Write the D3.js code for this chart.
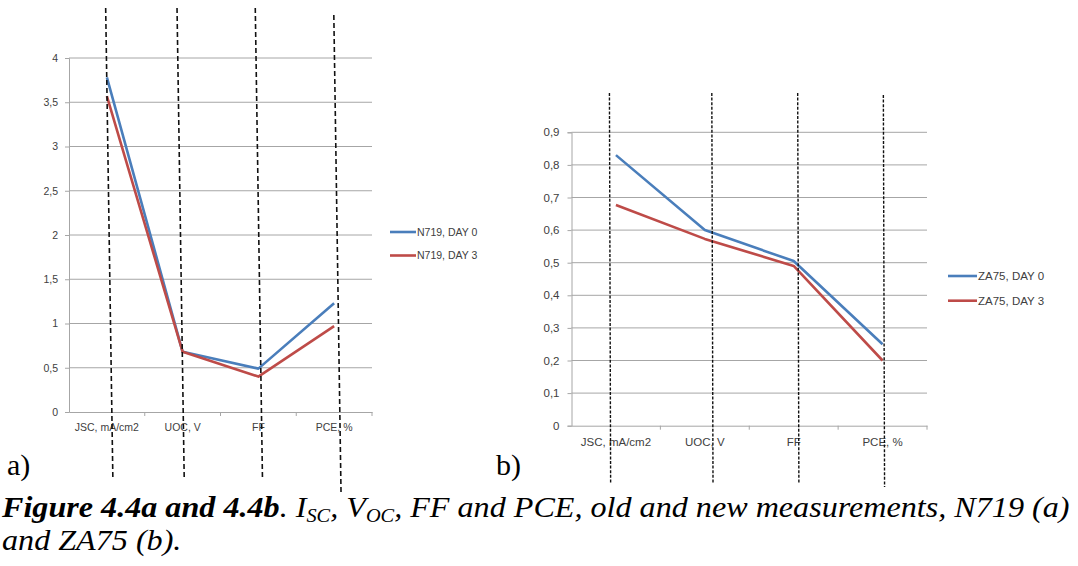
<!DOCTYPE html>
<html>
<head>
<meta charset="utf-8">
<script src="https://cdn.jsdelivr.net/npm/d3@7"></script>
<style>
  html, body { margin: 0; padding: 0; background: #fff; }
  svg { display: block; }
  .tick text, .lbl { font-family: "Liberation Sans", Arial, sans-serif; fill: #404040; }
  .serif { font-family: "Liberation Serif", "Times New Roman", serif; }
</style>
</head>
<body>
<svg id="fig" width="1078" height="566"></svg>
<script>
// Measured parameters shared by both panels
const categories = ["JSC, mA/cm2", "UOC, V", "FF", "PCE, %"];

// Panel a) N719
const n719TickValues = [0, 0.5, 1, 1.5, 2, 2.5, 3, 3.5, 4];
const n719TickLabels = ["0", "0,5", "1", "1,5", "2", "2,5", "3", "3,5", "4"];
const n719Day0 = [3.78, 0.68, 0.49, 1.23];
const n719Day3 = [3.57, 0.68, 0.40, 0.97];
const n719Names = ["N719, DAY 0", "N719, DAY 3"];

// Panel b) ZA75
const za75TickValues = [0, 0.1, 0.2, 0.3, 0.4, 0.5, 0.6, 0.7, 0.8, 0.9];
const za75TickLabels = ["0", "0,1", "0,2", "0,3", "0,4", "0,5", "0,6", "0,7", "0,8", "0,9"];
const za75Day0 = [0.83, 0.60, 0.505, 0.25];
const za75Day3 = [0.677, 0.573, 0.49, 0.20];
const za75Names = ["ZA75, DAY 0", "ZA75, DAY 3"];

const seriesColors = ["#4A7EBB", "#BE4B48"];

const svg = d3.select("#fig");
svg.append("rect").attr("width", 1078).attr("height", 566).attr("fill", "#fff");

function panel(cfg) {
  const g = svg.append("g");
  const x = d3.scaleBand().domain(categories).range([cfg.left, cfg.right]);
  const y = d3.scaleLinear().domain(cfg.domain).range([cfg.bottom, cfg.top]);

  // horizontal gridlines
  g.append("g").selectAll("line").data(cfg.tickValues.slice(1)).join("line")
    .attr("x1", cfg.left).attr("x2", cfg.right)
    .attr("y1", d => y(d)).attr("y2", d => y(d))
    .attr("stroke", "#a6a6a6").attr("stroke-width", 1);

  // value axis
  const ya = g.append("g").attr("transform", `translate(${cfg.left},0)`)
    .call(d3.axisLeft(y).tickValues(cfg.tickValues)
      .tickFormat((d, i) => cfg.tickLabels[i]).tickSize(4).tickPadding(cfg.pad));
  ya.select(".domain").attr("stroke", "#a6a6a6");
  ya.selectAll(".tick line").attr("stroke", "#a6a6a6");
  ya.selectAll(".tick text").attr("font-size", cfg.fs);

  // category axis
  const xa = g.append("g").attr("transform", `translate(0,${cfg.bottom})`)
    .call(d3.axisBottom(x).tickSize(0).tickPadding(cfg.catPad));
  xa.select(".domain").attr("stroke", "#a6a6a6");
  xa.selectAll(".tick text").attr("font-size", cfg.fs);
  // tick marks between categories
  g.append("g").selectAll("line").data(categories).join("line")
    .attr("x1", (d, i) => x.range()[0] + x.step() * (i + 1))
    .attr("x2", (d, i) => x.range()[0] + x.step() * (i + 1))
    .attr("y1", cfg.bottom).attr("y2", cfg.bottom + 4)
    .attr("stroke", "#a6a6a6");

  // series lines
  const line = d3.line().x((d, i) => x(categories[i]) + x.bandwidth() / 2).y(d => y(d));
  cfg.series.forEach((s, k) => {
    g.append("path").datum(s).attr("d", line)
      .attr("fill", "none").attr("stroke", seriesColors[k])
      .attr("stroke-width", 2.6).attr("stroke-linejoin", "round");
  });

  // legend
  cfg.names.forEach((n, k) => {
    const ly = cfg.legY + k * cfg.legGap;
    g.append("line").attr("x1", cfg.legX).attr("x2", cfg.legX + cfg.legLen)
      .attr("y1", ly).attr("y2", ly)
      .attr("stroke", seriesColors[k]).attr("stroke-width", 2.6);
    g.append("text").attr("class", "lbl")
      .attr("x", cfg.legX + cfg.legLen + 1).attr("y", ly)
      .attr("dy", "0.35em").attr("font-size", cfg.fs).text(n);
  });

  // dashed guide lines through each category
  categories.forEach((c, i) => {
    const cx = x(c) + x.bandwidth() / 2 + cfg.guideShift[i];
    g.append("line")
      .attr("x1", cx).attr("y1", cfg.guideTop[i])
      .attr("x2", cx + cfg.guideTilt).attr("y2", cfg.guideBottom[i])
      .attr("stroke", "#111").attr("stroke-width", cfg.guideWidth)
      .attr("stroke-dasharray", cfg.guideDash);
  });
  return g;
}

panel({
  left: 69, right: 372, top: 58, bottom: 412, domain: [0, 4],
  tickValues: n719TickValues, tickLabels: n719TickLabels,
  series: [n719Day0, n719Day3], names: n719Names,
  fs: 10.5, pad: 7, catPad: 12,
  legX: 390, legY: 232, legGap: 23.5, legLen: 26,
  guideShift: [-1.2, -5.6, -3.1, -0.3], guideTilt: 7.2,
  guideTop: [8, 8, 8, 15], guideBottom: [479, 479, 479, 492],
  guideWidth: 1.6, guideDash: "5,3"
});

panel({
  left: 571.5, right: 927, top: 132.3, bottom: 425.7, domain: [0, 0.9],
  tickValues: za75TickValues, tickLabels: za75TickLabels,
  series: [za75Day0, za75Day3], names: za75Names,
  fs: 11.5, pad: 8, catPad: 12,
  legX: 948, legY: 276, legGap: 24.7, legLen: 29,
  guideShift: [-6.5, 7, 4, 0.8], guideTilt: 1.2,
  guideTop: [93, 93, 93, 95], guideBottom: [484, 484, 484, 487],
  guideWidth: 1.4, guideDash: "3,1.6"
});

// panel letters
svg.append("text").attr("class", "serif").attr("x", 7).attr("y", 475)
  .attr("font-size", 30).attr("fill", "#000").text("a)");
svg.append("text").attr("class", "serif").attr("x", 496).attr("y", 475)
  .attr("font-size", 30).attr("fill", "#000").text("b)");

// caption, condensed to the column width
const cap = svg.append("g").attr("class", "serif")
  .attr("font-size", 30).attr("font-style", "italic").attr("fill", "#000");
const l1 = cap.append("text").attr("x", 0).attr("y", 0);
l1.append("tspan").attr("font-weight", "bold").text("Figure 4.4a and 4.4b");
l1.append("tspan").text(". I");
l1.append("tspan").attr("font-size", 19).attr("dy", 5).text("SC");
l1.append("tspan").attr("dy", -5).text(", V");
l1.append("tspan").attr("font-size", 19).attr("dy", 5).text("OC");
l1.append("tspan").attr("dy", -5).text(", FF and PCE, old and new measurements, N719 (a)");
cap.append("text").attr("x", 0).attr("y", 33).text("and ZA75 (b).");
const w1 = l1.node().getComputedTextLength();
const sx = 1068 / w1;
cap.attr("transform", `translate(2,517) scale(${sx},1)`);
</script>
</body>
</html>
